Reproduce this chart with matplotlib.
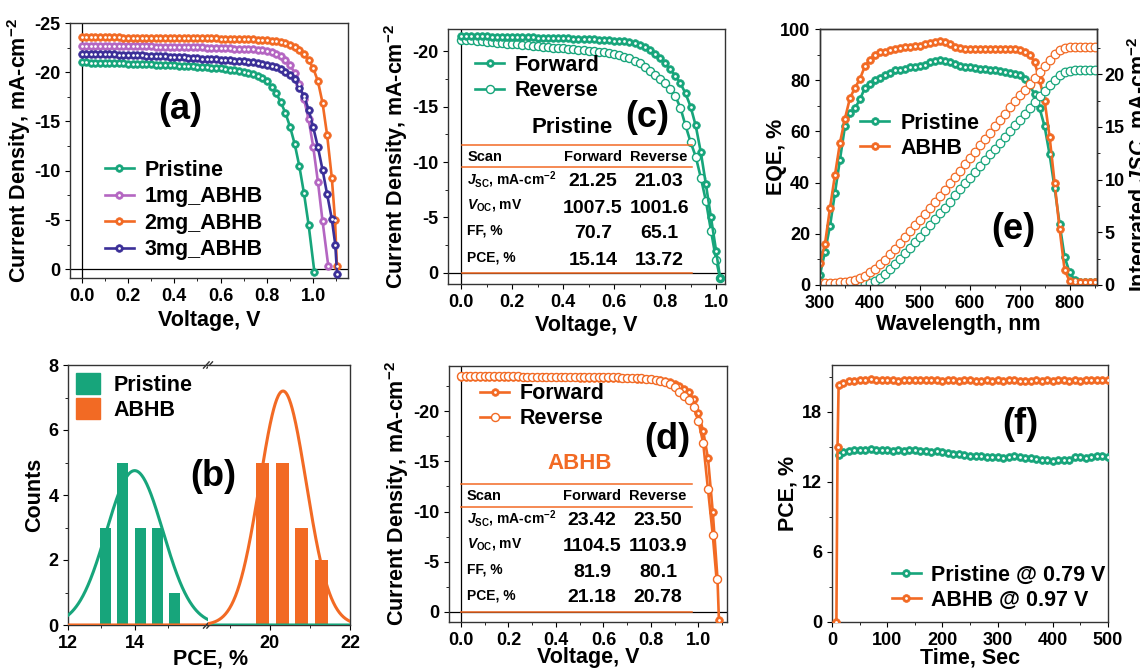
import numpy as np
import matplotlib
matplotlib.use('Agg')
import matplotlib.pyplot as plt
from matplotlib.patches import Patch
from matplotlib.ticker import MultipleLocator

plt.rcParams.update({
    'font.family': ['Liberation Sans', 'DejaVu Sans'],
    'font.weight': 'bold',
    'axes.labelweight': 'bold',
    'mathtext.fontset': 'custom',
    'mathtext.rm': 'Liberation Sans:bold',
    'mathtext.it': 'Liberation Sans:italic:bold',
    'mathtext.bf': 'Liberation Sans:bold',
    'axes.unicode_minus': False,
    'axes.linewidth': 1.0,
    'axes.edgecolor': '#333333',
    'xtick.direction': 'out', 'ytick.direction': 'out',
    'xtick.major.size': 3.5, 'ytick.major.size': 3.5,
    'xtick.minor.size': 2.0, 'ytick.minor.size': 2.0,
    'xtick.labelsize': 13, 'ytick.labelsize': 13,
})

GREEN = '#17a57b'
ORANGE = '#f26a24'
PURPLE = '#b466c2'
NAVY = '#3b2f98'

# ---------------- data ----------------
# voltage sweep grid (V) shared by the J-V curves
v_grid = [0.00, 0.02, 0.04, 0.06, 0.08, 0.10, 0.12, 0.14, 0.16, 0.18,
          0.20, 0.22, 0.24, 0.26, 0.28, 0.30, 0.32, 0.34, 0.36, 0.38,
          0.40, 0.42, 0.44, 0.46, 0.48, 0.50, 0.52, 0.54, 0.56, 0.58,
          0.60, 0.62, 0.64, 0.66, 0.68, 0.70, 0.72, 0.74, 0.76, 0.78,
          0.80, 0.82, 0.84, 0.86, 0.88, 0.90, 0.92, 0.94, 0.96, 0.98,
          1.00, 1.02, 1.04, 1.06, 1.08]

# (a) J-V of different ABHB amounts
a_pristine_j = [-21.00, -20.99, -20.98, -20.97, -20.96, -20.95, -20.94, -20.92, -20.91, -20.90,
                -20.88, -20.87, -20.85, -20.84, -20.82, -20.80, -20.78, -20.76, -20.74, -20.72,
                -20.70, -20.68, -20.65, -20.62, -20.60, -20.57, -20.54, -20.51, -20.47, -20.43,
                -20.38, -20.33, -20.27, -20.20, -20.12, -20.03, -19.92, -19.80, -19.62, -19.40,
                -19.10, -18.55, -17.85, -16.95, -15.85, -14.45, -12.70, -10.45, -7.70, -4.50]
a_pristine_end_v = [1.005]
a_pristine_end_j = [0.30]

a_1mg_j = [-22.70, -22.70, -22.69, -22.69, -22.68, -22.68, -22.67, -22.67, -22.66, -22.65,
           -22.65, -22.64, -22.63, -22.63, -22.62, -22.62, -22.61, -22.60, -22.59, -22.58,
           -22.58, -22.57, -22.56, -22.55, -22.54, -22.53, -22.52, -22.51, -22.49, -22.48,
           -22.47, -22.45, -22.43, -22.41, -22.39, -22.37, -22.34, -22.31, -22.28, -22.23,
           -22.16, -22.05, -21.88, -21.62, -21.25, -20.70, -19.95, -18.85, -17.30, -15.20,
           -12.40, -8.90, -4.90]
a_1mg_end_v = [1.065]
a_1mg_end_j = [-0.30]

a_2mg_j = [-23.55, -23.55, -23.55, -23.54, -23.54, -23.54, -23.53, -23.53, -23.53, -23.52,
           -23.52, -23.52, -23.51, -23.51, -23.51, -23.50, -23.50, -23.50, -23.49, -23.49,
           -23.48, -23.48, -23.47, -23.47, -23.46, -23.46, -23.45, -23.45, -23.44, -23.43,
           -23.42, -23.41, -23.40, -23.39, -23.38, -23.37, -23.35, -23.33, -23.31, -23.28,
           -23.25, -23.20, -23.14, -23.05, -22.93, -22.77, -22.55, -22.25, -21.85, -21.20,
           -20.40, -19.10, -16.90, -13.60, -9.30]
a_2mg_end_v = [1.094, 1.102]
a_2mg_end_j = [-5.00, -0.30]

a_3mg_j = [-21.90, -21.89, -21.88, -21.87, -21.86, -21.85, -21.84, -21.82, -21.80, -21.78,
           -21.76, -21.74, -21.72, -21.70, -21.68, -21.66, -21.64, -21.62, -21.60, -21.57,
           -21.55, -21.52, -21.50, -21.47, -21.44, -21.42, -21.39, -21.36, -21.33, -21.30,
           -21.27, -21.24, -21.21, -21.17, -21.13, -21.09, -21.04, -20.99, -20.93, -20.86,
           -20.77, -20.67, -20.54, -20.30, -20.05, -19.70, -19.30, -18.40, -17.60, -16.20,
           -14.40, -12.40, -10.10, -7.60, -5.10]
a_3mg_end_v = [1.095, 1.103]
a_3mg_end_j = [-2.50, 0.50]

# (c) Pristine forward / reverse
c_fwd_j = [-21.35, -21.35, -21.34, -21.34, -21.33, -21.33, -21.32, -21.31, -21.30, -21.29,
           -21.28, -21.27, -21.26, -21.25, -21.24, -21.23, -21.22, -21.21, -21.20, -21.18,
           -21.17, -21.15, -21.14, -21.12, -21.10, -21.08, -21.06, -21.04, -21.01, -20.98,
           -20.95, -20.92, -20.88, -20.80, -20.70, -20.55, -20.35, -20.10, -19.75, -19.35,
           -18.90, -18.35, -17.80, -17.10, -16.20, -15.00, -13.30, -10.90, -8.00, -5.00,
           -2.00]
c_fwd_end_v = [1.016]
c_fwd_end_j = [0.50]

c_rev_j = [-21.05, -21.01, -20.97, -20.93, -20.89, -20.85, -20.81, -20.77, -20.73, -20.69,
           -20.65, -20.61, -20.57, -20.53, -20.49, -20.45, -20.41, -20.37, -20.33, -20.29,
           -20.25, -20.21, -20.17, -20.13, -20.09, -20.05, -20.00, -19.95, -19.89, -19.83,
           -19.77, -19.65, -19.50, -19.35, -19.15, -18.90, -18.60, -18.20, -17.85, -17.50,
           -17.15, -16.60, -15.95, -14.90, -13.30, -11.80, -10.50, -8.60, -6.50, -3.80,
           -1.20]
c_rev_end_v = [1.016]
c_rev_end_j = [0.50]

# (d) ABHB forward / reverse
d_fwd_j = [-23.45, -23.45, -23.45, -23.44, -23.44, -23.44, -23.43, -23.43, -23.43, -23.42,
           -23.42, -23.42, -23.41, -23.41, -23.41, -23.40, -23.40, -23.39, -23.39, -23.38,
           -23.38, -23.37, -23.37, -23.36, -23.36, -23.35, -23.35, -23.34, -23.33, -23.33,
           -23.32, -23.31, -23.30, -23.29, -23.28, -23.27, -23.26, -23.24, -23.23, -23.21,
           -23.20, -23.15, -23.10, -23.00, -22.90, -22.70, -22.50, -22.25, -21.90, -21.20,
           -19.80, -18.00, -15.30, -10.00, -3.30]
d_fwd_end_v = [1.086]
d_fwd_end_j = [0.80]

d_rev_j = [-23.50, -23.50, -23.49, -23.49, -23.49, -23.48, -23.48, -23.48, -23.47, -23.47,
           -23.47, -23.46, -23.46, -23.45, -23.45, -23.45, -23.44, -23.44, -23.43, -23.43,
           -23.42, -23.42, -23.41, -23.41, -23.40, -23.40, -23.39, -23.39, -23.38, -23.38,
           -23.37, -23.37, -23.36, -23.36, -23.35, -23.35, -23.33, -23.30, -23.26, -23.22,
           -23.17, -23.10, -23.02, -22.90, -22.70, -22.40, -21.90, -21.50, -21.10, -20.40,
           -19.00, -16.80, -12.20, -7.70]
d_rev_end_v = [1.076]
d_rev_end_j = [-3.30]

# (b) PCE histogram
pce_pristine_bins = [13.12, 13.64, 14.18, 14.69, 15.20]
pce_pristine_counts = [3, 5, 3, 3, 1]
pce_abhb_bins = [19.81, 20.31, 20.80, 21.29]
pce_abhb_counts = [5, 5, 3, 2]
# Gaussian fit parameters (amplitude, centre, width)
fit_pristine = (4.75, 14.0, 0.85)
fit_abhb = (7.2, 20.33, 0.58)

# (e) EQE and integrated Jsc
wavelength = [300, 310, 320, 330, 340, 350, 360, 370, 380, 390,
              400, 410, 420, 430, 440, 450, 460, 470, 480, 490,
              500, 510, 520, 530, 540, 550, 560, 570, 580, 590,
              600, 610, 620, 630, 640, 650, 660, 670, 680, 690,
              700, 710, 720, 730, 740, 750, 760, 770, 780, 790,
              800, 810, 820, 830, 840, 850]
eqe_pristine = [4, 13, 23, 36, 49, 62, 67, 69, 72.5, 77,
                78.5, 80, 81, 82, 83, 84, 84, 84.5, 85, 85.2,
                85.5, 85.8, 87, 87.5, 88, 87.5, 87, 86.5, 85.5, 85,
                85, 84.8, 84.5, 84.3, 84, 84, 83.5, 83.2, 83, 82.5,
                82, 80.5, 78, 74.5, 69, 62, 51, 38, 24, 11,
                5, 2, 1.2, 1, 1, 1]
eqe_abhb = [8.5, 16, 30, 43, 55.5, 65, 73, 77, 80.5, 85.5,
            88, 90, 91, 91.2, 91.8, 92.3, 92.5, 92.8, 93, 93.2,
            93.5, 94, 94.5, 95, 95.2, 95, 94, 93, 92.5, 92.3,
            92.3, 92.2, 92.2, 92.2, 92.3, 92.2, 92.2, 92.2, 92.2, 92,
            91.8, 91, 90, 87, 80, 72, 58, 40, 22, 6,
            1.5, 1, 1, 1, 1, 1]
jint_pristine = [0.05, 0.05, 0.05, 0.05, 0.05, 0.05, 0.05, 0.05, 0.05, 0.10,
                 0.20, 0.40, 0.70, 1.05, 1.50, 2.00, 2.50, 3.00, 3.50, 4.05,
                 4.60, 5.15, 5.70, 6.25, 6.80, 7.35, 7.90, 8.50, 9.10, 9.65,
                 10.20, 10.75, 11.30, 11.85, 12.40, 12.95, 13.50, 14.05, 14.60, 15.15,
                 15.70, 16.25, 16.80, 17.35, 17.90, 18.45, 18.95, 19.45, 19.90, 20.20,
                 20.35, 20.40, 20.40, 20.40, 20.40, 20.40]
jint_abhb = [0.15, 0.15, 0.17, 0.20, 0.25, 0.30, 0.38, 0.50, 0.65, 0.90,
             1.20, 1.55, 1.95, 2.40, 2.90, 3.45, 4.00, 4.55, 5.10, 5.65,
             6.20, 6.75, 7.30, 7.85, 8.45, 9.05, 9.65, 10.25, 10.85, 11.45,
             12.05, 12.65, 13.25, 13.85, 14.45, 15.05, 15.65, 16.25, 16.85, 17.45,
             18.00, 18.55, 19.10, 19.65, 20.20, 20.80, 21.40, 21.90, 22.30, 22.50,
             22.60, 22.60, 22.60, 22.60, 22.60, 22.60]

# (f) stabilized PCE
t_pristine = [12, 20, 30, 40, 50, 60, 70, 80, 90, 100, 110, 120, 130, 140, 150,
              160, 170, 180, 190, 200, 210, 220, 230, 240, 250, 260, 270, 280, 290,
              300, 310, 320, 330, 340, 350, 360, 370, 380, 390, 400, 410, 420, 430,
              440, 450, 460, 470, 480, 490, 500]
pce_t_pristine = [14.30, 14.55, 14.65, 14.70, 14.75, 14.70, 14.85, 14.75, 14.70, 14.70,
                  14.65, 14.70, 14.65, 14.70, 14.70, 14.60, 14.65, 14.55, 14.60, 14.55,
                  14.45, 14.40, 14.35, 14.30, 14.20, 14.20, 14.25, 14.15, 14.10, 14.10,
                  14.05, 14.10, 14.20, 14.15, 14.05, 14.00, 13.95, 13.90, 13.85, 13.80,
                  13.85, 13.90, 13.85, 14.15, 14.10, 14.05, 14.15, 14.20, 14.20, 14.15]
t_abhb = [8, 10, 12, 20, 30, 40, 50, 60, 70, 80, 90, 100, 110, 120, 130, 140, 150,
          160, 170, 180, 190, 200, 210, 220, 230, 240, 250, 260, 270, 280, 290,
          300, 310, 320, 330, 340, 350, 360, 370, 380, 390, 400, 410, 420, 430,
          440, 450, 460, 470, 480, 490, 500]
pce_t_abhb = [0.0, 15.0, 20.30, 20.50, 20.60, 20.65, 20.70, 20.70, 20.80, 20.75,
              20.70, 20.70, 20.70, 20.65, 20.70, 20.70, 20.70, 20.75, 20.70, 20.70,
              20.70, 20.65, 20.70, 20.70, 20.65, 20.70, 20.70, 20.65, 20.60, 20.70,
              20.65, 20.70, 20.65, 20.70, 20.70, 20.65, 20.60, 20.65, 20.70, 20.65,
              20.70, 20.65, 20.70, 20.70, 20.65, 20.70, 20.60, 20.70, 20.70, 20.75,
              20.70, 20.75]

# ---------------- helpers ----------------
W, H = 1140, 671
fig = plt.figure(figsize=(W / 100, H / 100), dpi=100)

LAB = 15.5     # axis label size
LEGF = 15.5    # legend size
PANEL = 26     # panel letter size


def px_axes(l, t, r, b):
    return fig.add_axes([l / W, 1 - b / H, (r - l) / W, (b - t) / H])


def curve(j, end_v, end_j):
    return list(v_grid[:len(j)]) + list(end_v), list(j) + list(end_j)


def balls(ax, x, y, c, ms=5.5, lw=1.9, z=3):
    l, = ax.plot(x, y, '-', color=c, lw=lw, marker='o', ms=ms, mfc=c, mec=c,
                 mew=0.5, zorder=z)
    d, = ax.plot(x, y, 'o', ms=ms * 0.36, mfc='white', mec='none', zorder=z + 0.1)
    return (l, d)


def opens(ax, x, y, c, ms=5.8, lw=1.9, z=3):
    l, = ax.plot(x, y, '-', color=c, lw=lw, marker='o', ms=ms, mfc='white', mec=c,
                 mew=1.0, zorder=z)
    return l


def style(ax):
    ax.tick_params(which='both', top=False, right=False)
    for s in ax.spines.values():
        s.set_linewidth(1.0)


def zero_lines(ax):
    ax.axhline(0, color='black', lw=0.9, zorder=1)
    ax.axvline(0, color='black', lw=0.9, zorder=1)


LEG = dict(frameon=False, numpoints=1, handlelength=1.35, handletextpad=0.5,
           borderaxespad=0, borderpad=0.2)
JLABEL = 'Current Density, mA-cm$^{-2}$'

# ---------------- (a) ----------------
ax = px_axes(70, 23, 348, 278)
style(ax)
zero_lines(ax)
h1 = balls(ax, *curve(a_pristine_j, a_pristine_end_v, a_pristine_end_j), GREEN)
h2 = balls(ax, *curve(a_1mg_j, a_1mg_end_v, a_1mg_end_j), PURPLE)
h3 = balls(ax, *curve(a_2mg_j, a_2mg_end_v, a_2mg_end_j), ORANGE)
h4 = balls(ax, *curve(a_3mg_j, a_3mg_end_v, a_3mg_end_j), NAVY)
ax.set_xlim(-0.05, 1.15)
ax.set_ylim(0.9, -25)
ax.set_xticks([0.0, 0.2, 0.4, 0.6, 0.8, 1.0])
ax.xaxis.set_minor_locator(MultipleLocator(0.1))
ax.yaxis.set_major_locator(MultipleLocator(5))
ax.yaxis.set_minor_locator(MultipleLocator(2.5))
ax.set_xlabel('Voltage, V', fontsize=LAB)
ax.set_ylabel(JLABEL, fontsize=LAB)
ax.xaxis.set_label_coords(0.5, -0.125)
ax.yaxis.set_label_coords(-0.133, 0.5)
ax.legend([h1, h2, h3, h4], ['Pristine', '1mg_ABHB', '2mg_ABHB', '3mg_ABHB'],
          loc='upper left', bbox_to_anchor=(0.11, 0.48), fontsize=LEGF,
          labelspacing=0.25, **LEG)
ax.text(0.396, 0.659, '(a)', transform=ax.transAxes, fontsize=PANEL,
        ha='center', va='center')

# ---------------- (c) ----------------
ax = px_axes(448, 29, 725, 284)
style(ax)
zero_lines(ax)
rc = opens(ax, *curve(c_rev_j, c_rev_end_v, c_rev_end_j), GREEN)
fc = balls(ax, *curve(c_fwd_j, c_fwd_end_v, c_fwd_end_j), GREEN, z=4)
ax.set_xlim(-0.052, 1.035)
ax.set_ylim(1.0, -22)
ax.set_xticks([0.0, 0.2, 0.4, 0.6, 0.8, 1.0])
ax.xaxis.set_minor_locator(MultipleLocator(0.1))
ax.set_yticks([0, -5, -10, -15, -20])
ax.yaxis.set_minor_locator(MultipleLocator(2.5))
ax.set_xlabel('Voltage, V', fontsize=LAB)
ax.set_ylabel(JLABEL, fontsize=LAB)
ax.xaxis.set_label_coords(0.5, -0.12)
ax.yaxis.set_label_coords(-0.137, 0.5)
ax.legend([fc, rc], ['Forward', 'Reverse'], loc='upper left',
          bbox_to_anchor=(0.083, 0.915), fontsize=LEGF, labelspacing=0.2, **LEG)
ax.text(0.718, 0.651, '(c)', transform=ax.transAxes, fontsize=PANEL,
        ha='center', va='center')


def table(ax, title, title_color, pos, rows, fwd, rev):
    (tx, ty, lx0, lx1, ly_top, ly_head, ly_bot, y_head, y_rows,
     x_scan, x_f, x_r) = pos
    ax.text(tx, ty, title, transform=ax.transAxes, fontsize=16,
            color=title_color, ha='center', va='center')
    for yy in (ly_top, ly_head, ly_bot):
        ax.plot([lx0, lx1], [yy, yy], transform=ax.transAxes, color=ORANGE,
                lw=1.1, zorder=5)
    ax.text(x_scan, y_head, 'Scan', transform=ax.transAxes, fontsize=10.5,
            ha='left', va='center')
    ax.text(x_f, y_head, 'Forward', transform=ax.transAxes, fontsize=10.5,
            ha='center', va='center')
    ax.text(x_r, y_head, 'Reverse', transform=ax.transAxes, fontsize=10.5,
            ha='center', va='center')
    for yy, lab, f, r in zip(y_rows, rows, fwd, rev):
        ax.text(x_scan, yy + 0.01, lab, transform=ax.transAxes, fontsize=10,
                ha='left', va='center')
        ax.text(x_f, yy, f, transform=ax.transAxes, fontsize=14,
                ha='center', va='center')
        ax.text(x_r, yy, r, transform=ax.transAxes, fontsize=14,
                ha='center', va='center')


row_labels = [r'$J_{\mathrm{SC}}$, mA-cm$^{-2}$', r'$V_{\mathrm{OC}}$, mV', 'FF, %', 'PCE, %']
pristine_fwd = ['21.25', '1007.5', '70.7', '15.14']
pristine_rev = ['21.03', '1001.6', '65.1', '13.72']
abhb_fwd = ['23.42', '1104.5', '81.9', '21.18']
abhb_rev = ['23.50', '1103.9', '80.1', '20.78']

table(ax, 'Pristine', 'black',
      (0.448, 0.612, 0.05, 0.88, 0.545, 0.459, 0.043, 0.498,
       [0.40, 0.298, 0.20, 0.094], 0.07, 0.523, 0.762),
      row_labels, pristine_fwd, pristine_rev)

# ---------------- (e) ----------------
ax = px_axes(820, 29, 1097, 285)
style(ax)
ax2 = ax.twinx()
ge = balls(ax, wavelength, eqe_pristine, GREEN, ms=5.6)
oe = balls(ax, wavelength, eqe_abhb, ORANGE, ms=5.6)
ax2.plot(wavelength, jint_pristine, '-', color=GREEN, lw=0.8, marker='o', ms=6.2,
         mfc='white', mec=GREEN, mew=0.9)
ax2.plot(wavelength, jint_abhb, '-', color=ORANGE, lw=0.8, marker='o', ms=6.2,
         mfc='white', mec=ORANGE, mew=0.9)
ax.set_xlim(300, 855)
ax.set_ylim(0, 100)
ax2.set_ylim(0, 24.3)
ax.set_xticks([300, 400, 500, 600, 700, 800])
ax.xaxis.set_minor_locator(MultipleLocator(50))
ax.set_yticks([0, 20, 40, 60, 80, 100])
ax.yaxis.set_minor_locator(MultipleLocator(10))
ax2.set_yticks([0, 5, 10, 15, 20])
ax2.yaxis.set_minor_locator(MultipleLocator(2.5))
ax2.tick_params(which='both', direction='out', pad=2)
ax.set_xlabel('Wavelength, nm', fontsize=LAB)
ax.set_ylabel('EQE, %', fontsize=LAB)
ax2.set_ylabel('Integrated $JSC$, mA-cm$^{-2}$', fontsize=LAB)
ax.xaxis.set_label_coords(0.5, -0.115)
ax.yaxis.set_label_coords(-0.119, 0.5)
ax2.yaxis.set_label_coords(1.1, 0.47)
ax.legend([ge, oe], ['Pristine', 'ABHB'], loc='upper left',
          bbox_to_anchor=(0.13, 0.69), fontsize=LEGF, labelspacing=0.2, **LEG)
ax.text(0.697, 0.215, '(e)', transform=ax.transAxes, fontsize=PANEL,
        ha='center', va='center')

# ---------------- (b) ----------------
axl = px_axes(68, 365, 208, 625)
axr = px_axes(208, 365, 350, 625)
for a in (axl, axr):
    style(a)
axl.spines['right'].set_visible(False)
axr.spines['left'].set_visible(False)
axr.tick_params(which='both', left=False, labelleft=False)
xs = np.linspace(12, 22, 800)
for a in (axl, axr):
    a.bar(pce_pristine_bins, pce_pristine_counts, width=0.33, color=GREEN, zorder=2)
    a.bar(pce_abhb_bins, pce_abhb_counts, width=0.33, color=ORANGE, zorder=2)
    A, mu, sg = fit_pristine
    a.plot(xs, A * np.exp(-(xs - mu) ** 2 / (2 * sg ** 2)), color=GREEN, lw=2.2, zorder=3)
    A, mu, sg = fit_abhb
    a.plot(xs, A * np.exp(-(xs - mu) ** 2 / (2 * sg ** 2)), color=ORANGE, lw=2.2, zorder=3)
    a.set_ylim(0, 8)
axl.set_xlim(12, 16.2)
axr.set_xlim(18.46, 22)
axl.set_xticks([12, 14])
axl.set_xticks([13, 15], minor=True)
axr.set_xticks([20, 22])
axr.set_xticks([19, 21], minor=True)
axl.set_yticks([0, 2, 4, 6, 8])
axl.yaxis.set_minor_locator(MultipleLocator(1))
axl.set_ylabel('Counts', fontsize=LAB)
axl.yaxis.set_label_coords(-0.164, 0.5)
fig.text(211 / W, 1 - 659 / H, 'PCE, %', fontsize=LAB, ha='center', va='center')
for yy in (1.0, 0.0):
    for dx in (-0.012, 0.012):
        axl.plot([1.0 + dx - 0.02, 1.0 + dx + 0.02], [yy - 0.012, yy + 0.012],
                 transform=axl.transAxes, color='#333333', lw=1.0, clip_on=False, zorder=6)
axl.legend([Patch(color=GREEN), Patch(color=ORANGE)], ['Pristine', 'ABHB'],
           loc='upper left', bbox_to_anchor=(0.0, 1.0), fontsize=LEGF,
           frameon=False, handlelength=1.15, handleheight=1.15, handletextpad=0.6,
           labelspacing=0.12, borderaxespad=0.15, borderpad=0.2)
fig.text(213 / W, 1 - 477 / H, '(b)', fontsize=PANEL, ha='center', va='center')

# ---------------- (d) ----------------
ax = px_axes(449, 366, 727, 622)
style(ax)
zero_lines(ax)
fd = balls(ax, *curve(d_fwd_j, d_fwd_end_v, d_fwd_end_j), ORANGE, z=3)
rd = opens(ax, *curve(d_rev_j, d_rev_end_v, d_rev_end_j), ORANGE, z=4)
ax.set_xlim(-0.05, 1.12)
ax.set_ylim(1.0, -24.5)
ax.set_xticks([0.0, 0.2, 0.4, 0.6, 0.8, 1.0])
ax.xaxis.set_minor_locator(MultipleLocator(0.1))
ax.set_yticks([0, -5, -10, -15, -20])
ax.yaxis.set_minor_locator(MultipleLocator(2.5))
ax.set_xlabel('Voltage, V', fontsize=LAB)
ax.set_ylabel(JLABEL, fontsize=LAB)
ax.xaxis.set_label_coords(0.5, -0.098)
ax.yaxis.set_label_coords(-0.137, 0.5)
ax.legend([fd, rd], ['Forward', 'Reverse'], loc='upper left',
          bbox_to_anchor=(0.097, 0.95), fontsize=LEGF, labelspacing=0.2, **LEG)
ax.text(0.784, 0.711, '(d)', transform=ax.transAxes, fontsize=PANEL,
        ha='center', va='center')
table(ax, 'ABHB', ORANGE,
      (0.471, 0.621, 0.043, 0.874, 0.539, 0.449, 0.039, 0.492,
       [0.395, 0.293, 0.195, 0.094], 0.065, 0.514, 0.752),
      row_labels, abhb_fwd, abhb_rev)

# ---------------- (f) ----------------
ax = px_axes(832, 365, 1108, 622)
style(ax)
gf = balls(ax, t_pristine, pce_t_pristine, GREEN, ms=5.6)
of = balls(ax, t_abhb, pce_t_abhb, ORANGE, ms=5.6, z=4)
ax.set_xlim(0, 500)
ax.set_ylim(0, 22)
ax.set_xticks([0, 100, 200, 300, 400, 500])
ax.xaxis.set_minor_locator(MultipleLocator(50))
ax.set_yticks([0, 6, 12, 18])
ax.yaxis.set_minor_locator(MultipleLocator(3))
ax.set_xlabel('Time, Sec', fontsize=LAB)
ax.set_ylabel('PCE, %', fontsize=LAB)
ax.xaxis.set_label_coords(0.5, -0.098)
ax.yaxis.set_label_coords(-0.123, 0.5)
ax.legend([gf, of], ['Pristine @ 0.79 V', 'ABHB @ 0.97 V'], loc='lower left',
          bbox_to_anchor=(0.2, 0.027), fontsize=LEGF, labelspacing=0.2, **LEG)
ax.text(0.681, 0.77, '(f)', transform=ax.transAxes, fontsize=PANEL,
        ha='center', va='center')

fig.savefig('out.png', dpi=100)
